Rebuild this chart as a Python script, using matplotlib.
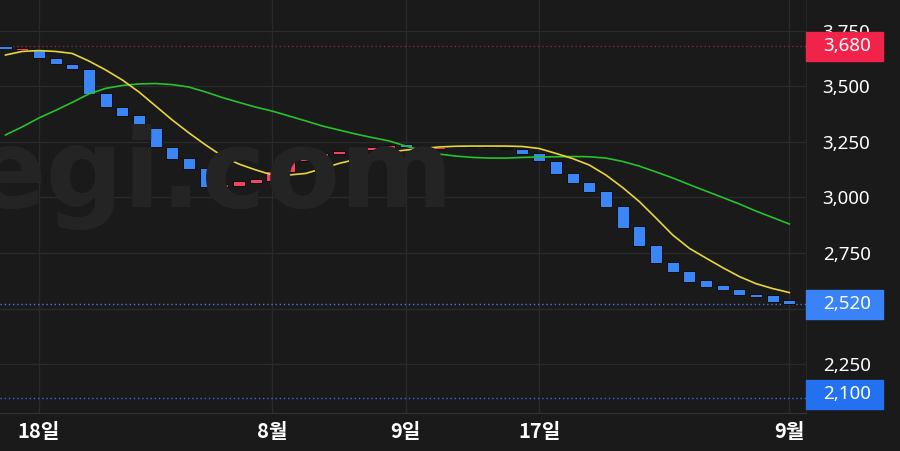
import matplotlib
matplotlib.use('Agg')
import matplotlib.pyplot as plt
from matplotlib.patches import Rectangle
from matplotlib.transforms import blended_transform_factory

# candle data (open / close), one per session
opens = [3680, 3662, 3665, 3628, 3598, 3578, 3468, 3405, 3370, 3310,
         3228, 3176, 3131, 3046, 3053, 3066, 3074, 3113, 3165, 3173,
         3196, 3204, 3213, 3219, 3239, 3228, 3216, 3226, 3226, 3226,
         3224, 3220, 3198, 3166, 3109, 3069, 3028, 2960, 2870, 2788,
         2708, 2670, 2628, 2606, 2589, 2567, 2560, 2540]
closes = [3665, 3672, 3628, 3598, 3575, 3465, 3405, 3368, 3306, 3226,
          3174, 3127, 3046, 3060, 3072, 3082, 3119, 3168, 3178, 3200,
          3210, 3220, 3228, 3236, 3226, 3216, 3228, 3226, 3226, 3226,
          3217, 3195, 3165, 3106, 3066, 3023, 2956, 2865, 2784, 2705,
          2667, 2622, 2600, 2585, 2562, 2553, 2532, 2520]

# moving averages
ma_short = [3640, 3656, 3660, 3656, 3647, 3613, 3573, 3528, 3474, 3411,
            3348, 3290, 3236, 3186, 3150, 3124, 3101, 3101, 3108, 3130,
            3153, 3171, 3189, 3204, 3213, 3220, 3227, 3230, 3231, 3231,
            3231, 3229, 3220, 3198, 3175, 3146, 3101, 3045, 2982, 2908,
            2832, 2772, 2728, 2685, 2645, 2613, 2591, 2573]
ma_long = [3281, 3317, 3357, 3391, 3427, 3465, 3490, 3503, 3510, 3512,
           3507, 3496, 3474, 3449, 3427, 3406, 3388, 3366, 3344, 3321,
           3303, 3285, 3269, 3254, 3231, 3211, 3195, 3186, 3180, 3177,
           3177, 3180, 3182, 3183, 3184, 3183, 3177, 3162, 3141, 3115,
           3088, 3058, 3029, 3000, 2971, 2939, 2910, 2881]

date_pos = [2, 16, 24, 32, 47]
date_labels = ['18일', '8월', '9일', '17일', '9월']
price_ticks = [2250, 2500, 2750, 3000, 3250, 3500, 3750]

high_price = 3680
last_price = 2520
low_price = 2100

BG = '#1a1a1a'
GRID = '#2a2a2a'
UP = '#f2445c'
DOWN = '#3b86f6'
KFONT = ['Noto Sans CJK KR', 'DejaVu Sans']
NUMFONT = ['Noto Sans', 'DejaVu Sans']

fig = plt.figure(figsize=(9, 4.51), dpi=100, facecolor=BG)
ax = fig.add_axes([0, 38 / 451, 806 / 900, 413 / 451])
ax.set_facecolor(BG)
ax.set_xlim(-0.33, 48.0)
ax.set_ylim(2032, 3887)

# grid
for p in date_pos:
    ax.axvline(p, color=GRID, lw=0.9, zorder=0)
for t in price_ticks:
    ax.axhline(t, color=GRID, lw=0.9, zorder=0)

# watermark
fig.text(-28 / 900, 1 - 207 / 451, 'egi.com', fontsize=78, color='#242424',
         va='baseline', ha='left', family='DejaVu Sans', fontweight='bold',
         zorder=0)

# candles
x = list(range(len(opens)))
for i in x:
    o, c = opens[i], closes[i]
    col = UP if c > o else DOWN
    if c == o:
        col = '#8a8a8a'
    ax.bar(i, c - o, bottom=o, width=0.72, color=col, edgecolor='#0e0e0e',
           linewidth=0.7, zorder=2)

ax.plot(x, ma_long, color='#27c22c', lw=1.2, zorder=3, solid_joinstyle='round')
ax.plot(x, ma_short, color='#e8d53e', lw=1.2, zorder=3, solid_joinstyle='round')

# price lines
ax.axhline(high_price, color='#7e2a38', lw=1, ls=(0, (1, 2)), zorder=1)
ax.axhline(last_price, color='#3b7de8', lw=1, ls=(0, (1, 2)), zorder=1)
ax.axhline(low_price, color='#2f6ee8', lw=1, ls=(0, (1, 2)), zorder=1)

# axes styling
for s in ['top', 'left']:
    ax.spines[s].set_visible(False)
ax.spines['right'].set_color('#262626')
ax.spines['bottom'].set_color('#333333')

ax.yaxis.tick_right()
ax.set_yticks(price_ticks)
# 2,500 sits under the last-price box, so it is not shown
ax.set_yticklabels(['' if t == 2500 else f'{t:,}' for t in price_ticks])
ax.tick_params(axis='y', length=0, pad=12, labelsize=13.5, labelcolor='white')
for lab in ax.get_yticklabels():
    lab.set_family(NUMFONT)

ax.set_xticks(date_pos)
ax.set_xticklabels(date_labels)
ax.tick_params(axis='x', length=0, pad=6, labelsize=14.5, labelcolor='white')
for lab in ax.get_xticklabels():
    lab.set_family(KFONT)
    lab.set_fontweight('bold')

# price boxes on the right axis
trans = blended_transform_factory(fig.transFigure, ax.transData)
box_h = 29 / 0.22267
for val, ypos, col in [(high_price, high_price, '#f2234b'),
                       (last_price, last_price, '#3a82f7'),
                       (low_price, 2117, '#2370f0')]:
    r = Rectangle((806 / 900, ypos - box_h / 2), 77 / 900, box_h,
                  transform=trans, color=col, clip_on=False, zorder=5)
    ax.add_patch(r)
    ax.text(823 / 900, ypos, f'{val:,}', transform=trans, color='white',
            fontsize=13.5, va='center', ha='left', zorder=6, clip_on=False,
            family=NUMFONT)

plt.savefig('out.png', dpi=100, facecolor=BG)
plt.close()
